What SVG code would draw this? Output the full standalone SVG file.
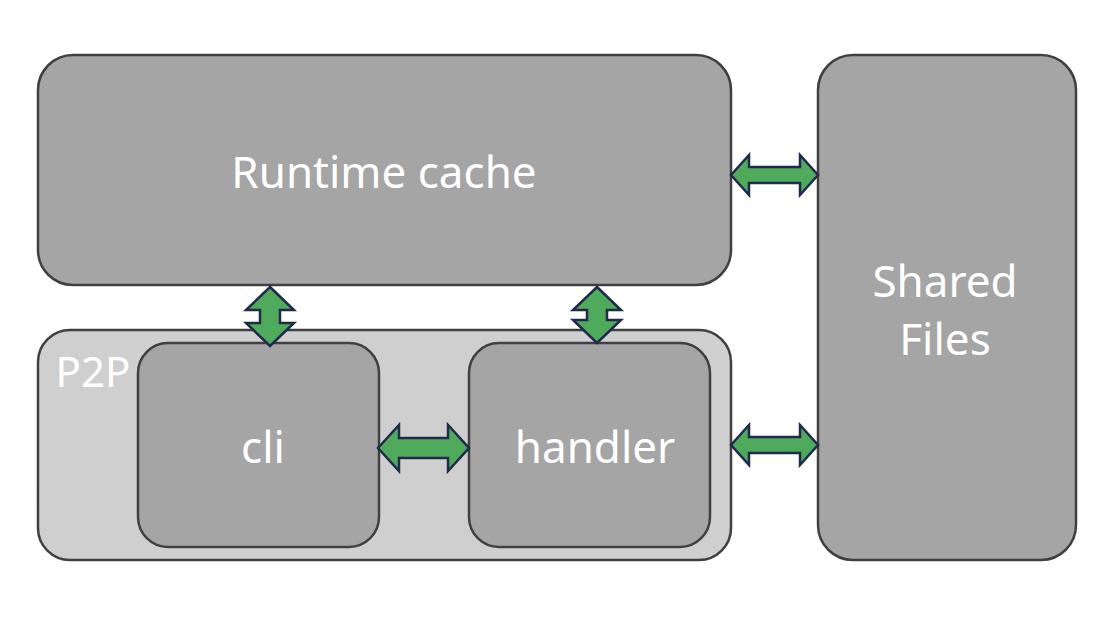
<svg xmlns="http://www.w3.org/2000/svg" width="1118" height="622" viewBox="0 0 1118 622">
<style>
.box{fill:#a5a5a5;stroke:#404040;stroke-width:2.5}
.grp{fill:#d0cfd0;stroke:#404040;stroke-width:2.5}
.lbl{font-family:"Noto Sans","Open Sans",sans-serif;fill:#ffffff;text-anchor:middle}
.arr{fill:#4faa5b;stroke:#1f2a4c;stroke-width:2.5;stroke-linejoin:miter}
</style>
<rect width="1118" height="622" fill="#ffffff"/>
<g id="p2p">
<rect class="grp" x="38" y="330" width="693" height="230" rx="32"/>
<text class="lbl" x="93" y="387" font-size="42">P2P</text>
</g>
<g id="runtime-cache">
<rect class="box" x="38" y="55" width="693" height="230" rx="35"/>
<text class="lbl" x="384" y="188" font-size="44">Runtime cache</text>
</g>
<g id="shared-files">
<rect class="box" x="818" y="55" width="258" height="505" rx="35"/>
<text class="lbl" x="945" y="297" font-size="44">Shared</text>
<text class="lbl" x="945" y="355" font-size="44">Files</text>
</g>
<g id="cli">
<rect class="box" x="138" y="343" width="241" height="204" rx="30"/>
<text class="lbl" x="263" y="463" font-size="44">cli</text>
</g>
<g id="handler">
<rect class="box" x="469" y="343" width="241" height="204" rx="30"/>
<text class="lbl" x="595" y="463" font-size="44">handler</text>
</g>
<g id="connectors">
<polygon class="arr" points="731,175 749,155 749,167 800,167 800,155 818,175 800,195 800,183 749,183 749,195"/>
<polygon class="arr" points="731,445 749,425 749,437 800,437 800,425 818,445 800,465 800,453 749,453 749,465"/>
<polygon class="arr" points="378,448 399,425 399,438 448,438 448,425 469,448 448,471 448,458 399,458 399,471"/>
<polygon class="arr" points="270,287 294,310 280,310 280,323 294,323 270,346 246,323 260,323 260,310 246,310"/>
<polygon class="arr" points="597,287 621,310 607,310 607,320 621,320 597,343 573,320 587,320 587,310 573,310"/>
</g>
</svg>
